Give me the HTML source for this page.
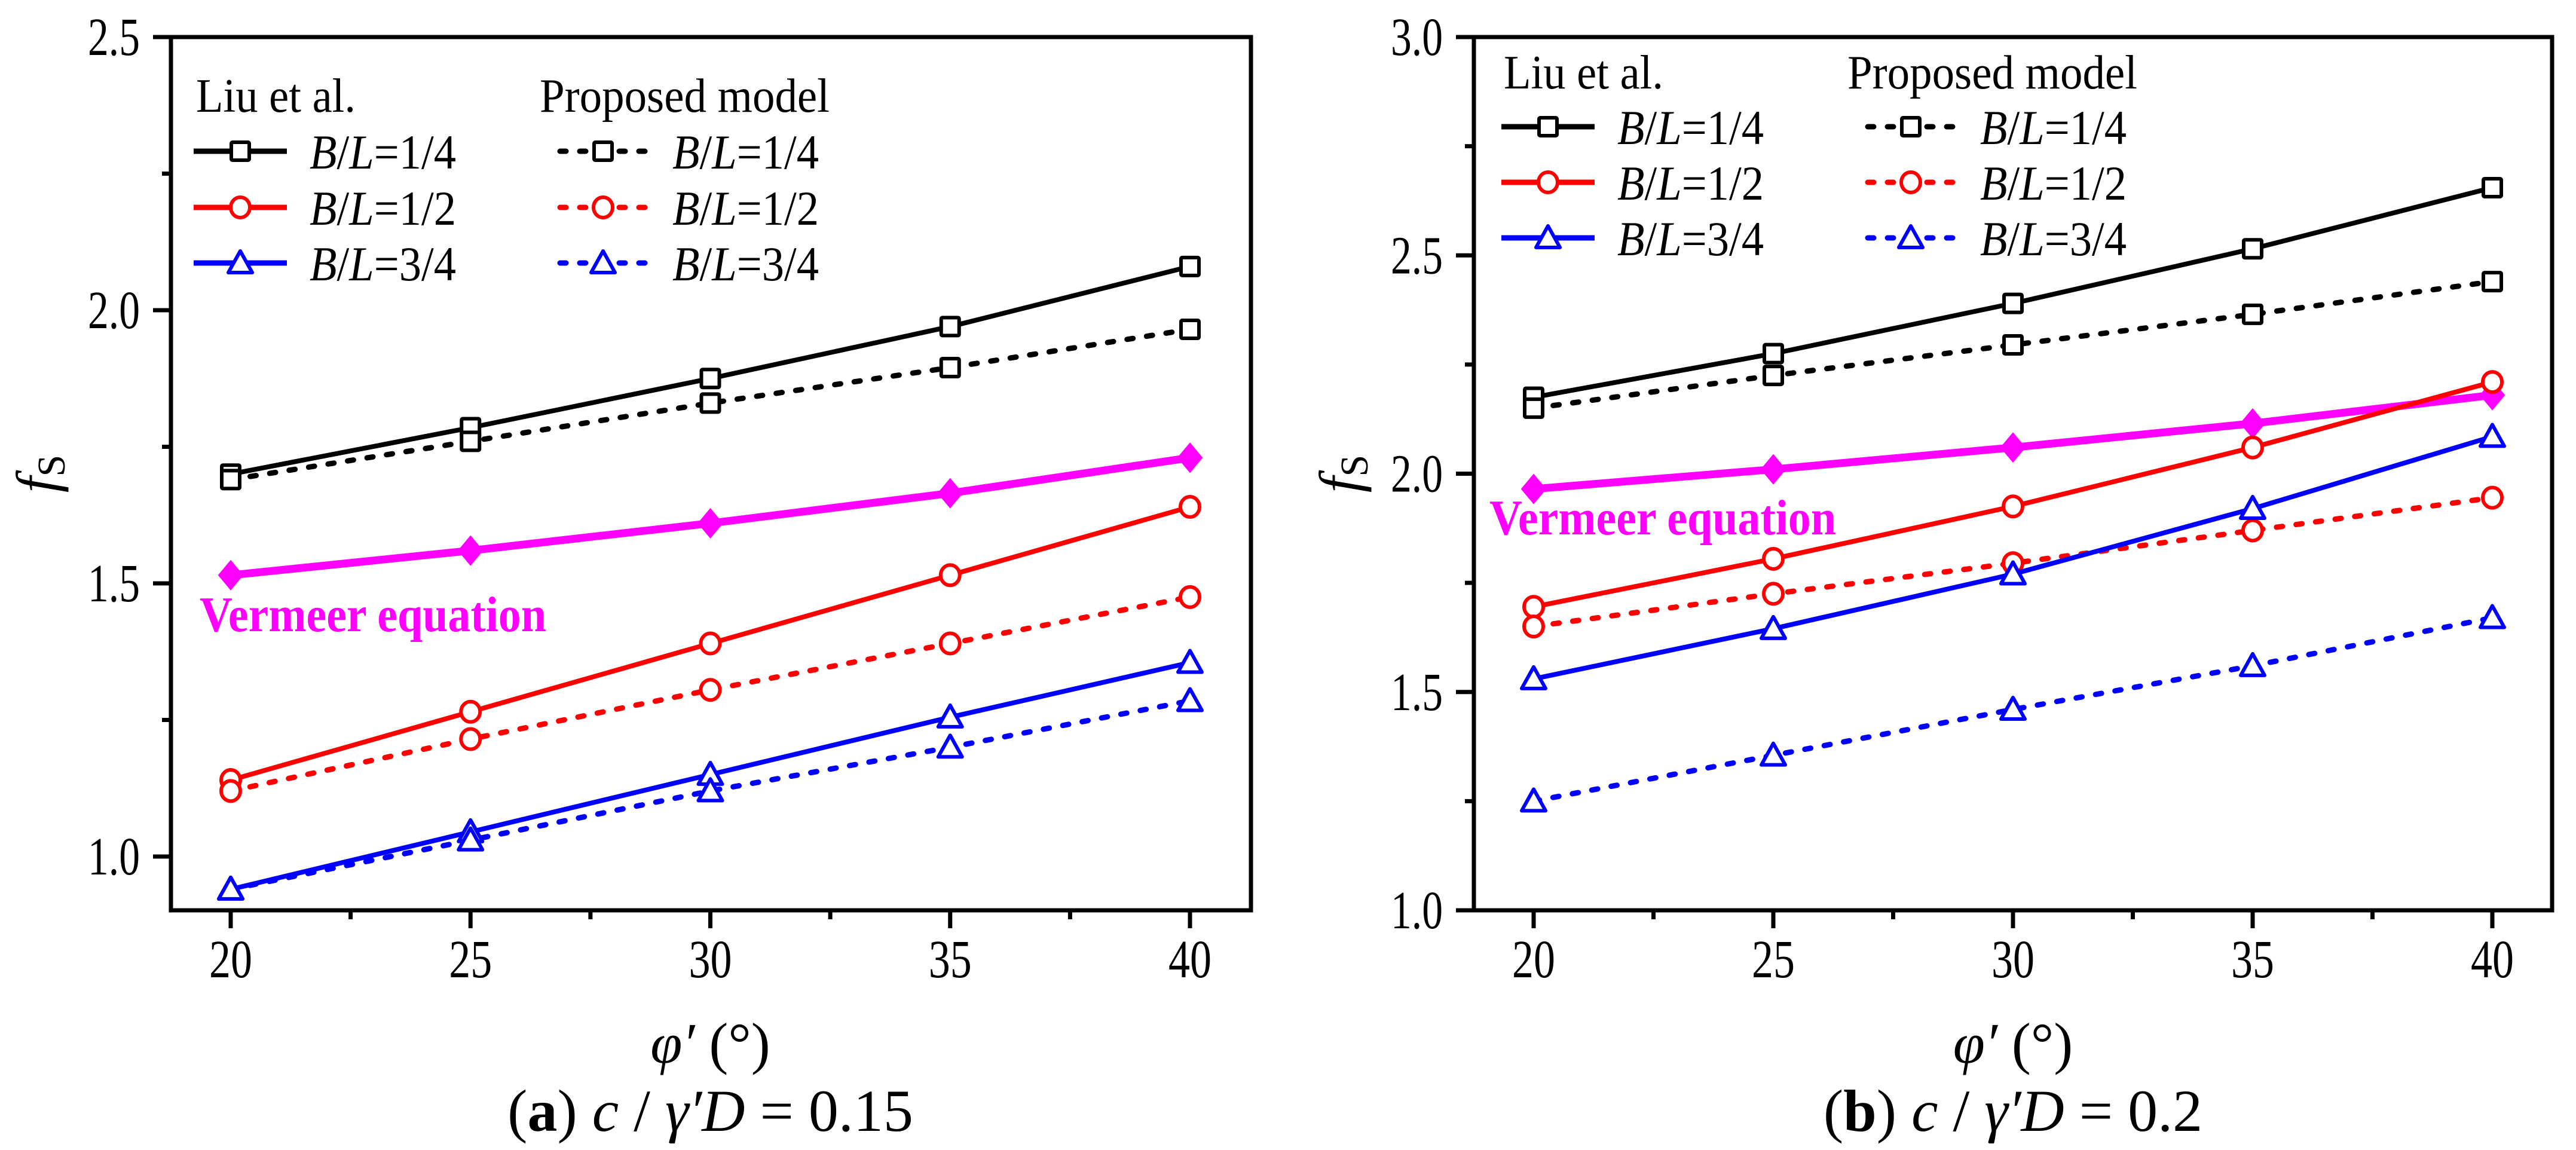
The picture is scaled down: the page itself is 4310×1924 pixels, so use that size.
<!DOCTYPE html>
<html><head><meta charset="utf-8"><style>
html,body{margin:0;padding:0;background:#fff}
svg{display:block}
</style></head><body>
<svg id="fig" width="4310" height="1924" viewBox="0 0 4310 1924" xmlns="http://www.w3.org/2000/svg" font-family="Liberation Serif, DejaVu Serif, serif"></svg>
<script>
const xCats = [20, 25, 30, 35, 40];
const xTickLabels = ["20", "25", "30", "35", "40"];
// Panel (a)
const aLiu14 = [1.70, 1.785, 1.875, 1.97, 2.08];
const aPro14 = [1.69, 1.76, 1.83, 1.895, 1.965];
const aLiu12 = [1.14, 1.265, 1.39, 1.515, 1.64];
const aPro12 = [1.12, 1.215, 1.305, 1.39, 1.475];
const aLiu34 = [0.94, 1.045, 1.15, 1.255, 1.355];
const aPro34 = [0.94, 1.03, 1.12, 1.20, 1.285];
const aVer = [1.515, 1.56, 1.61, 1.665, 1.73];
const aYTicks = [1.0, 1.5, 2.0, 2.5];
const aYTickLabels = ["1.0", "1.5", "2.0", "2.5"];
// Panel (b)
const bLiu14 = [2.175, 2.275, 2.39, 2.515, 2.655];
const bPro14 = [2.15, 2.225, 2.295, 2.365, 2.44];
const bLiu12 = [1.695, 1.805, 1.925, 2.06, 2.21];
const bPro12 = [1.65, 1.725, 1.795, 1.87, 1.945];
const bLiu34 = [1.53, 1.645, 1.77, 1.92, 2.085];
const bPro34 = [1.25, 1.355, 1.46, 1.56, 1.67];
const bVer = [1.965, 2.01, 2.06, 2.115, 2.18];
const bYTicks = [1.0, 1.5, 2.0, 2.5, 3.0];
const bYTickLabels = ["1.0", "1.5", "2.0", "2.5", "3.0"];

const NS = "http://www.w3.org/2000/svg";
const FF = "Liberation Serif, DejaVu Serif, serif";
const svg = document.getElementById("fig");
function mk(tag, attrs, parent) {
  const e = document.createElementNS(NS, tag);
  if (tag === "text") e.setAttribute("font-family", FF);
  for (const k in attrs) e.setAttribute(k, attrs[k]);
  (parent || svg).appendChild(e);
  return e;
}
function marker(g, shape, cx, cy, color) {
  let m;
  if (shape === "sq") m = mk("rect", {x: cx-15, y: cy-15, width: 30, height: 30, fill: "#fff", stroke: color, "stroke-width": 6, rx: 2}, g);
  else if (shape === "ci") m = mk("ellipse", {cx: cx, cy: cy, rx: 16, ry: 17, fill: "#fff", stroke: color, "stroke-width": 6}, g);
  else if (shape === "tr") m = mk("polygon", {points: `${cx},${cy-20} ${cx+20},${cy+16} ${cx-20},${cy+16}`, fill: "#fff", stroke: color, "stroke-width": 6, "stroke-linejoin": "round"}, g);
  else m = mk("polygon", {points: `${cx},${cy-24} ${cx+20},${cy} ${cx},${cy+24} ${cx-20},${cy}`, fill: color, stroke: color, "stroke-width": 2}, g);
  return m;
}

function panel(P) {
  const g = mk("g", {});
  
  
  const sx = v => P.x20 + (v - 20) * (P.x40 - P.x20) / 20;
  const sy = v => P.yA - (v - P.vA) * (P.yA - P.yB) / (P.vB - P.vA);
  const tg = mk("g", {}, g);
  
  
  xCats.forEach((v, i) => {
    mk("line", {x1: sx(v), y1: P.bottom, x2: sx(v), y2: P.bottom + 30, stroke: "#000", "stroke-width": 7}, tg);
    const t = mk("text", {x: sx(v) - 36, y: P.bottom + 112, "font-size": 90, textLength: 72, lengthAdjust: "spacingAndGlyphs"}, tg);
    t.textContent = xTickLabels[i];
    
    
    if (i < xCats.length - 1) mk("line", {x1: sx(v + 2.5), y1: P.bottom, x2: sx(v + 2.5), y2: P.bottom + 15, stroke: "#000", "stroke-width": 7}, tg);
  });
  const yg = mk("g", {}, g);
  
  
  P.yTicks.forEach((v, i) => {
    mk("line", {x1: P.left - 30, y1: sy(v), x2: P.left, y2: sy(v), stroke: "#000", "stroke-width": 7}, yg);
    const t = mk("text", {x: P.left - 52 - 87, y: sy(v) + 30, "font-size": 90, textLength: 87, lengthAdjust: "spacingAndGlyphs"}, yg);
    t.textContent = P.yTickLabels[i];
    
    
    const mv = v + 0.25;
    if (sy(mv) > P.top + 2) mk("line", {x1: P.left - 15, y1: sy(mv), x2: P.left, y2: sy(mv), stroke: "#000", "stroke-width": 7}, yg);
    const mv2 = v - 0.25;
    if (i === 0 && sy(mv2) < P.bottom - 2) mk("line", {x1: P.left - 15, y1: sy(mv2), x2: P.left, y2: sy(mv2), stroke: "#000", "stroke-width": 7}, yg);
  });
  const fr = mk("rect", {x: P.left, y: P.top, width: P.right - P.left, height: P.bottom - P.top, fill: "none", stroke: "#000", "stroke-width": 7}, g);
  
  
  P.series.forEach(s => {
    const sg = mk("g", {}, g);
    
    
    const pts = s.data.map((v, i) => sx(xCats[i]) + "," + sy(v)).join(" ");
    const at = {points: pts, fill: "none", stroke: s.color, "stroke-width": s.w || 8};
    if (s.dash) { at["stroke-dasharray"] = "10 23"; at["stroke-linecap"] = "round"; at["stroke-width"] = 9; }
    mk("polyline", at, sg);
    s.data.forEach((v, i) => {
      const m = marker(sg, s.shape, sx(xCats[i]), sy(v), s.color);
      
      
    });
  });
  const lg = mk("g", {}, g);
  
  
  const L = P.leg;
  let t = mk("text", {x: L.x1, y: L.headY, "font-size": 80, textLength: 267, lengthAdjust: "spacingAndGlyphs"}, lg);
  t.textContent = "Liu et al.";
  t = mk("text", {x: L.x2, y: L.headY, "font-size": 80, textLength: 485, lengthAdjust: "spacingAndGlyphs"}, lg);
  t.textContent = "Proposed model";
  const labels = ["1/4", "1/2", "3/4"], cols = ["#000", "#f00", "#00f"], shp = ["sq", "ci", "tr"];
  labels.forEach((lab, i) => {
    const y = L.rowY[i];
    [[L.x1 - 4, false], [L.x2 + 28, true]].forEach(([x0, dash]) => {
      const eg = mk("g", {}, lg);
      
      
      const a = {x1: x0, y1: y, x2: x0 + 156, y2: y, stroke: cols[i], "stroke-width": 9};
      if (dash) { a["stroke-dasharray"] = "10 23"; a["stroke-linecap"] = "round"; a.x1 = x0 + 6; a.x2 = x0 + 150; }
      mk("line", a, eg);
      marker(eg, shp[i], x0 + 78, y, cols[i]);
      const tx = mk("text", {x: x0 + 194, y: y + 29, "font-size": 82, textLength: 245, lengthAdjust: "spacingAndGlyphs"}, eg);
      tx.innerHTML = '<tspan font-style="italic">B</tspan>/<tspan font-style="italic">L</tspan>=' + lab;
    });
  });
  t = mk("text", {x: P.verX, y: P.verY + 26, "font-size": 84, "font-weight": "bold", fill: "#f0f", textLength: 580, lengthAdjust: "spacingAndGlyphs"}, g);
  t.textContent = "Vermeer equation";
  
  
  const cx = P.left - 220, cy = (P.top + P.bottom) / 2;
  t = mk("text", {x: cx, y: cy, "font-size": 96, "text-anchor": "middle", transform: `rotate(-90 ${cx} ${cy}) translate(0 28)`}, g);
  t.innerHTML = '<tspan font-style="italic">f</tspan><tspan font-size="66" dy="14">S</tspan>';
  
  
  const xm = (P.x20 + P.x40) / 2;
  t = mk("text", {x: xm, y: 1778, "font-size": 96, "text-anchor": "middle"}, g);
  t.innerHTML = '<tspan font-style="italic">φ′</tspan> (°)';
  
  
  t = mk("text", {x: xm, y: 1892, "font-size": 100, "text-anchor": "middle"}, g);
  t.innerHTML = '(<tspan font-weight="bold">' + P.letter + '</tspan>)  <tspan font-style="italic">c</tspan> / <tspan font-style="italic">γ′D</tspan> = ' + P.cval;
  
  
}

panel({name: "panel-a", left: 286, right: 2093, top: 62, bottom: 1523, x20: 386, x40: 1991,
  vA: 1.0, yA: 1433, vB: 2.5, yB: 62, yTicks: aYTicks, yTickLabels: aYTickLabels,
  letter: "a", cval: "0.15", verX: 334, verY: 1030,
  leg: {x1: 328, x2: 903, headY: 187, rowY: [253, 347, 440]},
  series: [
    {name: "series-liu-1-4", data: aLiu14, color: "#000", shape: "sq"},
    {name: "series-proposed-1-4", data: aPro14, color: "#000", shape: "sq", dash: true},
    {name: "series-vermeer", data: aVer, color: "#f0f", shape: "di", w: 13},
    {name: "series-liu-1-2", data: aLiu12, color: "#f00", shape: "ci"},
    {name: "series-proposed-1-2", data: aPro12, color: "#f00", shape: "ci", dash: true},
    {name: "series-liu-3-4", data: aLiu34, color: "#00f", shape: "tr"},
    {name: "series-proposed-3-4", data: aPro34, color: "#00f", shape: "tr", dash: true}
  ]});
panel({name: "panel-b", left: 2466, right: 4270, top: 62, bottom: 1523, x20: 2566, x40: 4170,
  vA: 1.0, yA: 1523, vB: 3.0, yB: 62, yTicks: bYTicks, yTickLabels: bYTickLabels,
  letter: "b", cval: "0.2", verX: 2492, verY: 868,
  leg: {x1: 2516, x2: 3091, headY: 148, rowY: [212, 305, 398]},
  series: [
    {name: "series-liu-1-4", data: bLiu14, color: "#000", shape: "sq"},
    {name: "series-proposed-1-4", data: bPro14, color: "#000", shape: "sq", dash: true},
    {name: "series-vermeer", data: bVer, color: "#f0f", shape: "di", w: 13},
    {name: "series-liu-1-2", data: bLiu12, color: "#f00", shape: "ci"},
    {name: "series-proposed-1-2", data: bPro12, color: "#f00", shape: "ci", dash: true},
    {name: "series-liu-3-4", data: bLiu34, color: "#00f", shape: "tr"},
    {name: "series-proposed-3-4", data: bPro34, color: "#00f", shape: "tr", dash: true}
  ]});
</script>
</body></html>
